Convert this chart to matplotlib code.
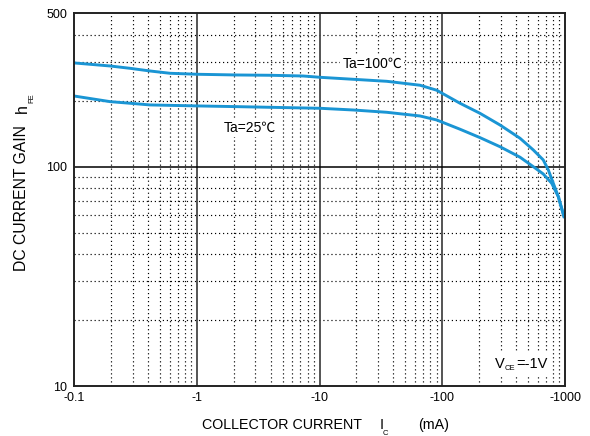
import matplotlib
matplotlib.use('Agg')
import matplotlib.pyplot as plt
from matplotlib.ticker import FixedLocator, NullFormatter

plt.rcParams['font.family'] = ['Liberation Sans', 'Noto Sans CJK SC', 'DejaVu Sans']

# Data (collector current magnitude in mA, DC current gain)
ic_100 = [0.1, 0.197, 0.286, 0.416, 0.606, 1.02, 2.12, 3.95, 7.38, 10.1, 18.9, 35.3,
          65.9, 90.1, 139.5, 203, 295, 430, 551, 665, 731, 803, 882, 981]
hfe_100 = [297, 287.6, 280.7, 272.9, 266.4, 263.6, 261.7, 260.9, 258.9, 255.4, 250.1, 244.9,
           235, 223, 194.5, 175, 154.9, 134.7, 119.2, 107.3, 96.6, 84.0, 73.0, 59.2]
ic_25 = [0.1, 0.197, 0.286, 0.416, 1.02, 2.12, 10.1, 18.9, 35.3, 65.9, 90.1,
         139.5, 203, 295, 430, 551, 665, 779, 882, 981]
hfe_25 = [209.9, 197.8, 194.5, 191.1, 189.1, 187.7, 184.5, 181.2, 176.9, 170.2, 163.2,
          148.1, 135.6, 123.3, 110.4, 100.0, 92.6, 84.0, 73.0, 59.2]

x_ticks = [0.1, 1, 10, 100, 1000]
x_labels = ['-0.1', '-1', '-10', '-100', '-1000']
y_ticks = [10, 100, 500]
y_labels = ['10', '100', '500']

W, H = 590, 436
fig = plt.figure(figsize=(W / 100, H / 100), dpi=100)
ax = fig.add_axes([74 / W, 1 - 386 / H, (565 - 74) / W, (386 - 13.3) / H])
ax.set_xscale('log')
ax.set_yscale('log')
ax.set_xlim(0.1, 1000)
ax.set_ylim(10, 500)

def px(x, y):
    return x / W, 1 - y / H

# grid
minor_x = [m * d for d in [0.1, 1, 10, 100] for m in range(2, 10)]
minor_y = [m * 10 for m in range(2, 10)] + [200, 300, 400]
for xv in minor_x:
    ax.axvline(xv, color='black', lw=0.85, ls=(0, (1, 2.4)), zorder=1)
for yv in minor_y:
    ax.axhline(yv, color='black', lw=0.85, ls=(0, (1, 2.4)), zorder=1)
for xv in [1, 10, 100]:
    ax.axvline(xv, color='#474747', lw=1.3, zorder=1.5)
ax.axhline(100, color='black', lw=1.1, zorder=1.5)

blue = '#1a95d4'
ax.plot(ic_100, hfe_100, color=blue, lw=2.1, zorder=3, solid_joinstyle='round')
ax.plot(ic_25, hfe_25, color=blue, lw=2.1, zorder=3, solid_joinstyle='round')

box = dict(facecolor='white', edgecolor='none', pad=1.5)
ax.text(27.0, 294, 'Ta=100℃', fontsize=10, ha='center', va='center', bbox=box, zorder=2)
ax.text(2.72, 150, 'Ta=25℃', fontsize=10, ha='center', va='center', bbox=box, zorder=2)

# V_CE label
fig.text(*px(495, 364), 'V', fontsize=10.5, ha='left', va='center',
         bbox=dict(facecolor='white', edgecolor='none', pad=3), zorder=5)
fig.text(*px(504.5, 368), 'CE', fontsize=5.5, ha='left', va='center', zorder=6)
fig.text(*px(516, 364), '=-1V', fontsize=10.5, ha='left', va='center',
         bbox=dict(facecolor='white', edgecolor='none', pad=3), zorder=5)

ax.xaxis.set_major_locator(FixedLocator(x_ticks))
ax.set_xticklabels(x_labels)
ax.xaxis.set_minor_locator(FixedLocator(minor_x))
ax.xaxis.set_minor_formatter(NullFormatter())
ax.yaxis.set_major_locator(FixedLocator(y_ticks))
ax.set_yticklabels(y_labels)
ax.yaxis.set_minor_locator(FixedLocator(minor_y))
ax.yaxis.set_minor_formatter(NullFormatter())
ax.tick_params(which='both', length=0, labelsize=9)
ax.tick_params(axis='x', pad=4)
ax.tick_params(axis='y', pad=5)

for s in ax.spines.values():
    s.set_linewidth(1.4)
    s.set_color('#222222')
    s.set_zorder(4)

# x-axis label
fig.text(*px(201.7, 425), 'COLLECTOR CURRENT', fontsize=10.3, ha='left', va='center')
fig.text(*px(379.5, 425), 'I', fontsize=10.3, ha='left', va='center')
fig.text(*px(383, 433), 'C', fontsize=5.5, ha='left', va='center')
fig.text(*px(418, 425), '(mA)', fontsize=10.3, ha='left', va='center')

# y-axis label
fig.text(*px(22, 198), 'DC CURRENT GAIN', fontsize=11.3, rotation=90, ha='center', va='center')
fig.text(*px(22, 109), 'h', fontsize=11.3, rotation=90, ha='center', va='center')
fig.text(*px(31.5, 98.5), 'FE', fontsize=5.5, rotation=90, ha='center', va='center')

fig.savefig('out.png', dpi=100)
